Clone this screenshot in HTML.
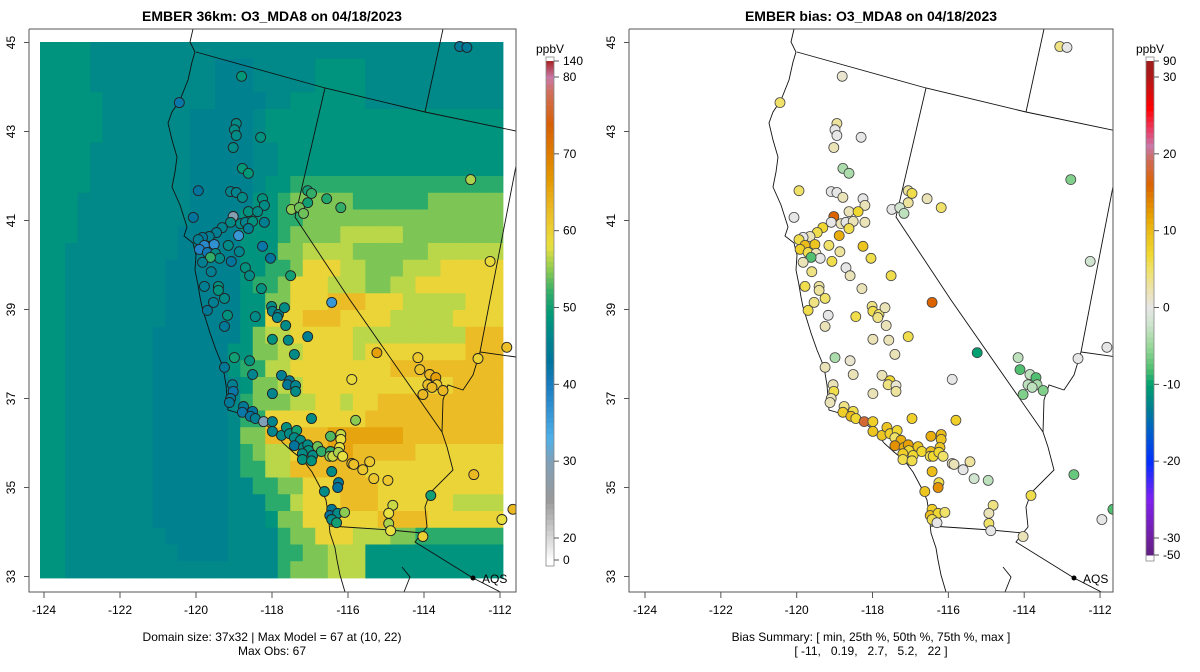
<!DOCTYPE html>
<html><head><meta charset="utf-8"><title>EMBER O3_MDA8</title>
<style>
html,body{margin:0;padding:0;background:#fff;}
svg{display:block;font-family:"Liberation Sans",Arial,sans-serif;}
</style></head>
<body>
<svg id="chart" width="1200" height="672" viewBox="0 0 1200 672" xmlns="http://www.w3.org/2000/svg">
<rect x="0" y="0" width="1200" height="672" fill="#fff"/>
<defs>
<clipPath id="clipL"><rect x="29" y="29" width="487" height="563"/></clipPath>
<clipPath id="clipR"><rect x="629" y="29" width="484" height="563"/></clipPath>
</defs>
<g id="left">
  <text x="272" y="21" text-anchor="middle" font-size="14" font-weight="bold">EMBER 36km: O3_MDA8 on 04/18/2023</text>
  <g id="gridL" clip-path="url(#clipL)"></g>
  <g id="mapL" clip-path="url(#clipL)"></g>
  <g id="stL" clip-path="url(#clipL)"></g>
  <g id="axL"></g>
  <g id="legL"></g>
  <text x="272" y="641" text-anchor="middle" font-size="12">Domain size: 37x32 | Max Model = 67 at (10, 22)</text>
  <text x="272" y="655" text-anchor="middle" font-size="12">Max Obs: 67</text>
</g>
<g id="right">
  <text x="871" y="21" text-anchor="middle" font-size="14" font-weight="bold">EMBER bias: O3_MDA8 on 04/18/2023</text>
  <g id="mapR" clip-path="url(#clipR)"></g>
  <g id="stR" clip-path="url(#clipR)"></g>
  <g id="axR"></g>
  <g id="legR"></g>
  <text x="871" y="641" text-anchor="middle" font-size="12">Bias Summary: [ min, 25th %, 50th %, 75th %, max ]</text>
  <text x="871" y="655" text-anchor="middle" font-size="12" xml:space="preserve">[ -11,   0.19,   2.7,   5.2,   22 ]</text>
</g>
</svg>
<script>
// ---- data ----
const xTicks = [-124,-122,-120,-118,-116,-114,-112];
const yTicks = [33,35,37,39,41,43,45];
const levelValues = {a:45.5,b:46.8,c:48.2,d:51.5,e:54.5,f:56.5,g:59.5,h:62.5,i:65.5};
const gridRows = [
"ccccbbbbbbbbbbbbbbbbbbbbbbbbbbbbbbbbb",
"ccccbbbbbbbbbbaaabbbbbccccbbbbbbbbbbb",
"ccccbbbbbbbbbbaaabbbbbccccbbbbbbbbbbb",
"cccccbbbbbbbbbaaaabbccccccbbbbbbbbbbb",
"cccccbbbbbbbaaaaabccccccccccccccccccc",
"cccccbbbbbbbaaaaabccccccccccccccccccc",
"ccccbbbbbbbbaaaaabbcccccccccccccccccc",
"ccccbbbbbbbbaaaaabbcccccccccccccccccc",
"ccccbbbbbbbbaaaaabccddddddddddddddddd",
"cccbbbbbbbbbaaaaaccdeeeeeddddddeeeeee",
"cccbbbbbbbbbaaaacccddeeeeeeeeeeeeeeee",
"cccbbbbbbbbaaaaacccdeeeefffffeeeeeeee",
"ccbbbbbbbbbaaaaaccceeffffeeeeeeffffff",
"ccbbbbbbbbaaaaaaccddegggffeeefffggggg",
"ccbbbbbbbbaaaaaacddegggfffeeffggggggg",
"ccbbbbbbbbaaaaaacceeggghhhgggfffffggg",
"ccbbbbbbbbaaaaaaccggghhhggggfffffgggg",
"ccbbbbbbbaaaaaaaceffgggggfffffffffhhh",
"ccbbbbbbbaaaaaacceeffggggfgggggggghhh",
"ccbbbbbbbaaaaaacddffgggggggghhhhhhhhh",
"ccbbbbbbbaaaaaabceeffgggggggggggghhhh",
"ccbbbbbbbaaaaaabdeeeffggfgghhhhhhhhhh",
"ccbbbbbbbaaaaaabddgggggggghhhhhhhhhhh",
"ccbbbbbbbaaaaaabeehhhhhiiiiiihhhhhhhh",
"ccbbbbbbbaaaaaabdeffgghiihhhhhggggggg",
"ccbbbbbbbaaaaaabddffhhhhhhggggggggggg",
"ccbbbbbbbaaaaaabbddeeggghhhgggggggggg",
"ccbbbbbbbaaaaaabbbddfggghhhggggggffff",
"ccbbbbbbbaaaaaabbbceegggggghhhhgggggg",
"ccbbbbbbbbaaaaabbbbdeegggfffeeddddddd",
"ccbbbbbbbbbaaaabbbbddeefffccccccccccc",
"ccbbbbbbbbbbbbbbbbbdeeefffccccccccccc"
];
const stLon = [-118.80,-120.44,-118.94,-118.99,-118.94,-118.30,-119.02,-118.78,-118.62,-119.94,-119.09,-118.94,-118.78,-118.25,-118.20,-117.06,-116.96,-117.06,-116.56,-116.19,-117.49,-117.28,-117.17,-112.77,-120.07,-119.02,-119.09,-118.62,-118.38,-118.83,-118.70,-118.51,-118.20,-119.31,-119.46,-119.65,-119.83,-119.94,-118.88,-118.62,-119.78,-119.52,-119.91,-119.70,-119.49,-119.38,-119.62,-119.83,-119.15,-118.86,-118.25,-118.04,-119.07,-118.70,-119.60,-118.59,-117.51,-119.78,-119.41,-119.41,-119.25,-119.54,-119.70,-118.28,-119.17,-118.44,-118.01,-117.99,-117.83,-117.67,-117.86,-116.43,-119.25,-117.64,-112.26,-117.99,-117.57,-117.06,-117.41,-115.24,-118.99,-118.59,-119.25,-118.51,-117.75,-117.54,-117.59,-117.38,-117.38,-117.99,-115.90,-114.16,-114.11,-113.85,-113.69,-113.66,-113.90,-113.79,-113.50,-114.03,-112.58,-111.82,-119.04,-119.02,-119.09,-119.12,-118.75,-118.78,-118.51,-118.57,-118.44,-118.22,-117.99,-117.99,-117.75,-117.62,-117.54,-117.35,-117.41,-117.25,-117.41,-117.17,-117.06,-117.04,-117.20,-116.93,-117.20,-116.96,-116.80,-116.70,-116.96,-115.80,-116.46,-116.19,-116.19,-116.22,-116.46,-116.48,-116.40,-116.25,-116.14,-115.90,-115.85,-115.43,-115.61,-115.32,-114.95,-116.43,-116.25,-116.27,-116.62,-112.69,-113.82,-114.82,-114.93,-114.93,-114.88,-114.03,-116.43,-116.48,-116.27,-116.09,-116.43,-116.30,-111.95,-111.66,-113.06,-112.87];
const stLat = [44.24,43.65,43.18,43.04,42.91,42.87,42.64,42.17,42.06,41.67,41.65,41.63,41.52,41.49,41.34,41.67,41.61,41.40,41.49,41.29,41.25,41.29,41.16,41.92,41.07,41.09,40.96,41.20,41.20,40.93,40.96,40.98,40.96,40.84,40.73,40.64,40.62,40.57,40.66,40.82,40.44,40.46,40.35,40.28,40.26,40.15,40.17,40.06,40.44,40.30,40.42,40.15,40.08,39.94,39.85,39.76,39.76,39.52,39.52,39.43,39.25,39.16,38.98,39.47,38.87,38.84,39.07,38.96,38.89,39.04,38.82,39.16,38.62,38.64,40.08,38.33,38.31,38.39,37.99,38.03,37.92,37.85,37.70,37.54,37.52,37.40,37.31,37.29,37.16,37.11,37.43,37.92,37.65,37.54,37.47,37.31,37.31,37.25,37.18,37.09,37.90,38.15,37.31,37.16,37.00,36.91,36.82,36.69,36.71,36.60,36.55,36.48,36.48,36.26,36.17,36.35,36.21,36.28,36.12,36.06,35.94,35.90,35.96,35.83,35.76,35.72,35.63,35.60,35.92,35.81,36.55,36.51,36.15,36.19,36.08,35.90,35.81,35.70,35.70,35.79,35.70,35.54,35.52,35.58,35.40,35.20,35.16,35.36,35.11,35.00,34.91,35.29,34.82,34.60,34.42,34.19,34.03,33.90,34.51,34.37,34.42,34.44,34.28,34.21,34.28,34.51,44.91,44.89];
const stObs = [49,42,47,47,47,48,47,49,49,43,46,46,47,48,47,50,52,50,51,52,55,54,54,56,43,29,47,48,47,47,46,48,45,46,45,45,44,45,36,45,38,37,39,41,47,47,52,45,47,46,42,43,43,48,45,47,50,45,48,48,47,45,44,48,48,47,47,46,46,47,46,36,44,47,59,48,47,45,47,66,50,48,44,46,45,44,44,46,47,46,59,61,62,63,66,61,62,63,63,63,60,62,45,42,44,44,44,42,43,43,45,30,46,46,47,48,47,50,47,47,43,47,47,48,47,47,48,48,54,52,47,55,53,57,58,58,52,55,57,56,58,62,62,61,61,61,61,47,44,43,47,63,50,57,58,56,58,60,44,43,47,55,47,50,58,63,44,44];
const stBias = [1,5,3,0,0,0,2,-4,-4,5,0,0,2,0,2,3,6,3,2,5,0,-2,-3,-6,0,16,0,2,7,2,0,2,2,7,6,2,0,6,11,6,10,9,8,6,2,0,-8,2,5,3,9,6,6,0,4,2,6,6,3,3,5,4,6,2,0,6,4,6,5,2,4,16,2,2,-2,2,2,6,2,-10,-4,1,2,2,2,7,4,1,3,2,0,-3,-8,-3,-8,-4,-3,-3,-6,-6,0,0,2,6,2,2,4,8,6,10,7,18,8,9,9,9,8,7,5,11,13,11,12,7,8,7,6,6,9,7,8,8,11,10,9,9,10,6,7,7,5,2,2,3,0,-2,-3,10,6,13,9,-7,6,4,2,5,0,2,8,10,7,5,6,0,0,-8,4,0];
const obsTickVals = [140,80,70,60,50,40,30,20,0];
const biasTickVals = [90,30,20,10,0,-10,-20,-30,-50];

// ---- scales / helpers ----
const NS='http://www.w3.org/2000/svg';
function mk(tag, parent, attrs){const e=document.createElementNS(NS,tag);for(const k in attrs)e.setAttribute(k,attrs[k]);parent.appendChild(e);return e;}
function xL(lon){return 44+(lon+124)*38;}
function xR(lon){return 645+(lon+124)*37.92;}
function yLat(lat){return 42.5+(45-lat)*44.5;}
function hex(h){return [parseInt(h.slice(1,3),16),parseInt(h.slice(3,5),16),parseInt(h.slice(5,7),16)];}
function ramp(stops,v){
  if(v<=stops[0][0])return stops[0][1];
  for(let i=1;i<stops.length;i++){if(v<=stops[i][0]){const a=stops[i-1],b=stops[i];const t=(v-a[0])/(b[0]-a[0]);const c1=hex(a[1]),c2=hex(b[1]);return 'rgb('+c1.map((c,j)=>Math.round(c+(c2[j]-c)*t)).join(',')+')';}}
  return stops[stops.length-1][1];
}
const obsStops=[[0,'#ffffff'],[20,'#d8d8d8'],[25,'#999999'],[30,'#80a0b8'],[33,'#50b0e8'],[37,'#3090d0'],[40,'#1a7cc0'],[43,'#00749c'],[46,'#00848e'],[49,'#009878'],[52,'#32ad68'],[55,'#8ccb52'],[58,'#e8e040'],[61,'#ecc82e'],[64,'#e9b01c'],[67,'#e39700'],[70,'#df7c00'],[74,'#d86008'],[78,'#cf6f5a'],[80,'#c97aa8'],[140,'#a82828']];
const biasStops=[[-50,'#602080'],[-30,'#7020a0'],[-25,'#8020f0'],[-20,'#0030ff'],[-16,'#0060c8'],[-13,'#008090'],[-10,'#00a070'],[-8,'#50c070'],[-5,'#98d898'],[-2,'#d0e4d0'],[0,'#e6e6e6'],[2,'#ebe3b8'],[5,'#f0e268'],[7,'#f0d830'],[10,'#ecbc18'],[12,'#e6a000'],[16,'#dc6400'],[19,'#d06a50'],[21,'#c878a8'],[23,'#e8406a'],[26,'#ff0000'],[30,'#b01818'],[90,'#a02020']];
function legY(map,v){for(let i=1;i<map.length;i++){if(v<=map[i][0]){const a=map[i-1],b=map[i];return a[1]+(v-a[0])/(b[0]-a[0])*(b[1]-a[1]);}}return map[map.length-1][1];}
const obsLegMap=[[0,560],[20,538],[80,77],[140,61]];
const biasLegMap=[[-50,555],[-30,538],[30,77],[90,61]];

// ---- model grid ----
const gridL=document.getElementById('gridL');
const cw=463/37, ch=536/32;
gridRows.forEach((row,r)=>{
  for(let i=0;i<37;i++){
    const code=row[i]||row[row.length-1];
    const v=levelValues[code];
    const c=mk('rect',gridL,{x:(40+i*cw).toFixed(2),y:(42+r*ch).toFixed(2),width:(cw+0.4).toFixed(2),height:(ch+0.4).toFixed(2),fill:ramp(obsStops,v)});
    
    
  }
});

// ---- map outlines (pixel geometry in left panel) ----
const coast=[[193,29],[190,42],[195,52],[192,62],[188,80],[180,100],[172,112],[168,123],[172,140],[177,157],[175,172],[172,187],[180,205],[187,227],[184,236],[193,243],[196,255],[195,270],[198,285],[200,297],[202,307],[206,320],[210,333],[216,350],[223,367],[226,385],[228,410],[245,415],[263,423],[273,430],[283,443],[293,452],[303,460],[312,472],[320,487],[326,500],[328,513],[330,533],[335,548],[337,560],[340,575],[345,592]];
const borders=[
 [[196,52],[325,88],[425,112],[516,131]],
 [[325,88],[295,217],[350,300],[442,432]],
 [[425,112],[443,29]],
 [[516,166],[490,300],[480,352],[516,357]],
 [[480,352],[473,375],[463,390],[448,385],[443,400],[442,432],[447,447],[453,470],[430,493],[425,507],[427,527],[422,533],[415,542],[473,578],[516,600]],
 [[330,526],[390,530],[422,533]],
 [[402,567],[410,577],[404,592]]
];
function drawMap(g,off){
  const pts=coast.map(p=>(p[0]+off)+','+p[1]).join(' ');
  const c=mk('polyline',g,{points:pts,fill:'none',stroke:'#111','stroke-width':0.9});
  
  
  borders.forEach(b=>{
    const l=mk('polyline',g,{points:b.map(p=>(p[0]+off)+','+p[1]).join(' '),fill:'none',stroke:'#111','stroke-width':0.9});
    
    
  });
  const d=mk('circle',g,{cx:473+off,cy:578,r:2.5,fill:'#000'});
  
  
  const t=mk('text',g,{x:482+off,y:583,'font-size':12});
  t.textContent='AQS';
  
  
}
drawMap(document.getElementById('mapL'),0);
drawMap(document.getElementById('mapR'),601);

// ---- stations ----
const stL=document.getElementById('stL'), stR=document.getElementById('stR');
for(let i=0;i<stLon.length;i++){
  const a=mk('circle',stL,{cx:xL(stLon[i]).toFixed(1),cy:yLat(stLat[i]).toFixed(1),r:5,fill:ramp(obsStops,stObs[i]),stroke:'#222','stroke-width':0.9});
  
  
  const b=mk('circle',stR,{cx:xR(stLon[i]).toFixed(1),cy:yLat(stLat[i]).toFixed(1),r:5,fill:ramp(biasStops,stBias[i]),stroke:'#444','stroke-width':0.8});
  
  
}

// ---- axes ----
function drawAxes(g,left,right,xf,labX){
  const box=mk('polyline',g,{points:`${left},29 ${right},29 ${right},592 ${left},592 ${left},29`,fill:'none',stroke:'#555','stroke-width':1});
  
  
  xTicks.forEach(v=>{
    const x=xf(v);
    const t=mk('line',g,{x1:x,y1:592,x2:x,y2:598,stroke:'#555'});
    
    
    const l=mk('text',g,{x:x,y:614,'text-anchor':'middle','font-size':12});
    l.textContent=v;
    
    
  });
  yTicks.forEach(v=>{
    const y=yLat(v);
    const t=mk('line',g,{x1:left-5,y1:y,x2:left,y2:y,stroke:'#555'});
    
    
    const l=mk('text',g,{x:labX,y:y,'text-anchor':'middle','font-size':12,transform:`rotate(-90 ${labX} ${y})`});
    l.textContent=v;
    
    
  });
}
drawAxes(document.getElementById('axL'),29,516,xL,15);
drawAxes(document.getElementById('axR'),629,1113,xR,615);

// ---- colorbars ----
function drawLegend(g,x0,stops,map,ticks,minV,maxV){
  const u=mk('text',g,{x:x0+4,y:53,'text-anchor':'middle','font-size':12});
  u.textContent='ppbV';
  
  
  const N=200;
  for(let k=0;k<N;k++){
    const v0=minV+(maxV-minV)*k/N, v1=minV+(maxV-minV)*(k+1)/N;
    const ya=legY(map,v0), yb=legY(map,v1);
    const r=mk('rect',g,{x:x0,y:Math.min(ya,yb).toFixed(2),width:8,height:(Math.abs(ya-yb)+0.5).toFixed(2),fill:ramp(stops,(v0+v1)/2)});
    
    
  }
  const top=legY(map,maxV)-4, bot=legY(map,minV)+6;
  const f=mk('rect',g,{x:x0,y:top,width:8,height:bot-top,fill:'none',stroke:'#888','stroke-width':0.8});
  
  
  ticks.forEach(v=>{
    const y=legY(map,v);
    const t=mk('line',g,{x1:x0+8,y1:y,x2:x0+13,y2:y,stroke:'#555'});
    
    
    const l=mk('text',g,{x:x0+17,y:y+4,'font-size':12});
    l.textContent=v;
    
    
  });
}
drawLegend(document.getElementById('legL'),546,obsStops,obsLegMap,obsTickVals,0,140);
drawLegend(document.getElementById('legR'),1146,biasStops,biasLegMap,biasTickVals,-50,90);
</script>
</body></html>
